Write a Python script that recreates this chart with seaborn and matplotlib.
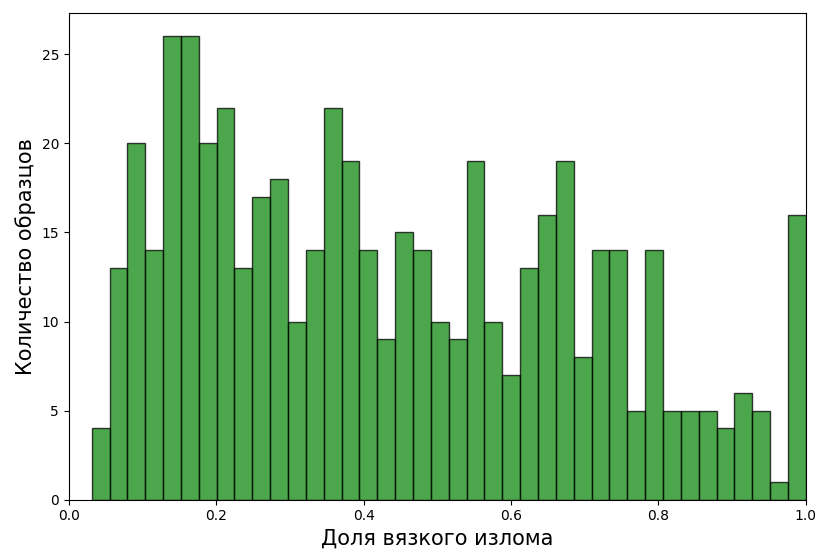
import numpy as np
import pandas as pd
import seaborn as sns
import matplotlib.pyplot as plt

# Histogram counts (40 bins)
counts = [4, 13, 20, 14, 26, 26, 20, 22, 13, 17,
          18, 10, 14, 22, 19, 14, 9, 15, 14, 10,
          9, 19, 10, 7, 13, 16, 19, 8, 14, 14,
          5, 14, 5, 5, 5, 4, 6, 5, 1, 16]
x_min = 0.031
x_max = 1.0
n_bins = 40

edges = np.linspace(x_min, x_max, n_bins + 1)
centers = (edges[:-1] + edges[1:]) / 2
df = pd.DataFrame({'share': centers, 'count': counts})

fig = plt.figure(figsize=(8.19, 5.51), dpi=100)
ax = fig.add_axes([0.084, 0.093, 0.9, 0.883])

sns.histplot(data=df, x='share', weights='count', bins=n_bins,
             binrange=(x_min, x_max), color='green', alpha=0.7,
             edgecolor=(0, 0, 0, 0.75), linewidth=1.0, ax=ax)

ax.set_xlim(0, 1)
ax.set_xlabel('Доля вязкого излома', fontsize=15)
ax.set_ylabel('Количество образцов', fontsize=15)
ax.tick_params(labelsize=10)

fig.savefig('out.png', dpi=100, facecolor='white')
